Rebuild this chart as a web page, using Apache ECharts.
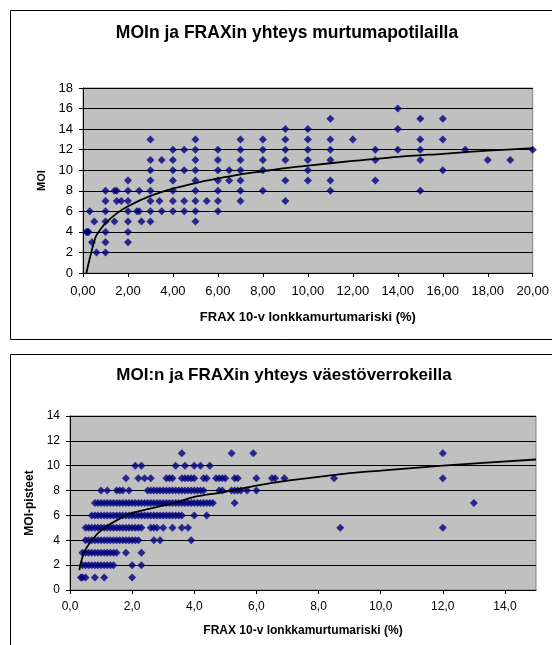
<!DOCTYPE html>
<html>
<head>
<meta charset="utf-8">
<script src="https://cdn.jsdelivr.net/npm/echarts@6/dist/echarts.min.js"></script>
<style>html,body{margin:0;padding:0;background:#fff}#c{width:552px;height:645px}</style>
</head>
<body>
<div id="c"></div>
<script>
// ---------- Chart 1: MOIn ja FRAXin yhteys murtumapotilailla ----------
const title1 = 'MOIn ja FRAXin yhteys murtumapotilailla';
const xName1 = 'FRAX 10-v lonkkamurtumariski (%)';
const yName1 = 'MOI';
// FRAX values (x) of patients, grouped by MOI score (y)
const c1_moi2  = [0.6, 1];
const c1_moi3  = [0.4, 1, 2];
const c1_moi4  = [0.15, 0.2, 0.25, 1, 2];
const c1_moi5  = [0.5, 1, 1.4, 2, 2.6, 3, 5];
const c1_moi6  = [0.3, 1, 2, 2.4, 2.5, 3, 3.5, 4, 4.5, 5, 6];
const c1_moi7  = [1, 1.5, 1.7, 2, 3, 3.4, 4, 4.5, 5, 5.5, 6, 7, 9];
const c1_moi8  = [1, 1.4, 1.5, 2, 2.5, 3, 4, 5, 6, 7, 8, 11, 15];
const c1_moi9  = [2, 3, 4, 5, 6, 6.5, 7, 9, 10, 11, 13];
const c1_moi10 = [3, 4, 4.5, 5, 6, 6.5, 7, 8, 10, 16];
const c1_moi11 = [3, 3.5, 4, 5, 6, 7, 8, 9, 10, 11, 13, 15, 18, 19];
const c1_moi12 = [4, 4.5, 5, 6, 7, 8, 9, 10, 11, 13, 14, 15, 17, 20];
const c1_moi13 = [3, 5, 7, 8, 9, 10, 11, 12, 15, 16];
const c1_moi14 = [9, 10, 14];
const c1_moi15 = [11, 15, 16];
const c1_moi16 = [14];
// logarithmic trend line
const c1_trendX = [0.15, 0.56, 0.8, 1, 1.5, 2, 3, 4, 5, 6, 7, 8, 9, 10, 12, 14, 16, 18, 20];
const c1_trendY = [0.0, 3.5, 4.3, 4.85, 5.8, 6.5, 7.5, 8.2, 8.75, 9.2, 9.6, 9.9, 10.2, 10.45, 10.9, 11.3, 11.6, 11.9, 12.15];

// ---------- Chart 2: MOI:n ja FRAXin yhteys väestöverrokeilla ----------
const title2 = 'MOI:n ja FRAXin yhteys väestöverrokeilla';
const xName2 = 'FRAX 10-v lonkkamurtumariski (%)';
const yName2 = 'MOI-pisteet';
const c2_moi1  = [0.35, 0.4, 0.5, 0.8, 1.1, 2.0];
const c2_moi2  = [0.4, 0.5, 0.6, 0.7, 0.8, 0.9, 1.0, 1.1, 1.2, 1.3, 1.4, 2.0, 2.3];
const c2_moi3  = [0.4, 0.5, 0.6, 0.7, 0.8, 0.9, 1.0, 1.1, 1.2, 1.3, 1.4, 1.5, 1.8, 2.3];
const c2_moi4  = [0.5, 0.6, 0.7, 0.8, 0.9, 1.0, 1.1, 1.2, 1.3, 1.4, 1.5, 1.6, 1.7, 1.8, 1.9, 2.0, 2.1, 2.2, 2.7, 2.9, 3.9];
const c2_moi5  = [0.5, 0.6, 0.7, 0.8, 0.9, 1.0, 1.1, 1.2, 1.3, 1.4, 1.5, 1.6, 1.7, 1.8, 1.9, 2.0, 2.1, 2.2, 2.3, 2.6, 2.7, 2.8, 3.0, 3.3, 3.6, 3.8, 8.7, 12.0];
const c2_moi6  = [0.7, 0.8, 0.9, 1.0, 1.1, 1.2, 1.3, 1.4, 1.5, 1.6, 1.7, 1.8, 1.9, 2.0, 2.1, 2.2, 2.3, 2.4, 2.5, 2.6, 2.7, 2.8, 2.9, 3.0, 3.1, 3.2, 3.3, 3.4, 3.5, 3.6, 4.0, 4.4];
const c2_moi7  = [0.8, 0.9, 1.0, 1.1, 1.2, 1.3, 1.4, 1.5, 1.6, 1.7, 1.8, 1.9, 2.0, 2.1, 2.2, 2.3, 2.4, 2.5, 2.6, 2.7, 2.8, 2.9, 3.0, 3.1, 3.2, 3.3, 3.4, 3.5, 3.6, 3.7, 3.8, 3.9, 4.0, 4.1, 4.2, 4.3, 4.4, 4.5, 4.6, 5.3, 13.0];
const c2_moi8  = [1.0, 1.2, 1.5, 1.6, 1.7, 1.9, 2.5, 2.6, 2.7, 2.8, 2.9, 3.0, 3.1, 3.2, 3.3, 3.4, 3.5, 3.6, 3.7, 3.8, 3.9, 4.0, 4.1, 4.2, 4.3, 4.8, 4.9, 5.2, 5.3, 5.4, 5.5, 5.7, 6.0];
const c2_moi9  = [1.8, 2.2, 2.4, 2.6, 3.1, 3.2, 3.3, 3.6, 3.7, 3.8, 3.9, 4.0, 4.3, 4.4, 4.7, 4.8, 4.9, 5.0, 5.3, 5.4, 6.0, 6.5, 6.6, 6.9, 8.5, 12.0];
const c2_moi10 = [2.1, 2.3, 3.4, 3.7, 4.0, 4.2, 4.5];
const c2_moi11 = [3.6, 5.2, 5.9, 12.0];
const c2_trendX = [0.3, 0.45, 0.7, 1, 1.5, 2, 2.5, 3, 3.5, 4, 5, 6, 7, 8, 9, 10, 12, 15];
const c2_trendY = [1.6, 3.0, 4.0, 4.8, 5.6, 6.2, 6.5, 6.8, 7.1, 7.5, 7.9, 8.4, 8.8, 9.1, 9.4, 9.6, 10.0, 10.5];

// ---------- build ----------
function rowsToPoints(rows) {
  const out = [];
  rows.forEach(([y, xs]) => xs.forEach(x => out.push([x, y])));
  return out;
}
const pts1 = rowsToPoints([[2, c1_moi2], [3, c1_moi3], [4, c1_moi4], [5, c1_moi5], [6, c1_moi6], [7, c1_moi7], [8, c1_moi8], [9, c1_moi9], [10, c1_moi10], [11, c1_moi11], [12, c1_moi12], [13, c1_moi13], [14, c1_moi14], [15, c1_moi15], [16, c1_moi16]]);
const pts2 = rowsToPoints([[1, c2_moi1], [2, c2_moi2], [3, c2_moi3], [4, c2_moi4], [5, c2_moi5], [6, c2_moi6], [7, c2_moi7], [8, c2_moi8], [9, c2_moi9], [10, c2_moi10], [11, c2_moi11]]);
const trend1 = c1_trendX.map((x, i) => [x, c1_trendY[i]]);
const trend2 = c2_trendX.map((x, i) => [x, c2_trendY[i]]);

const FONT = '"Liberation Sans", Arial, sans-serif';
const comma = d => v => v.toFixed(d).replace('.', ',');

function xAx(gi, max, dec, name, fs, nfs, gap, margin) {
  return {
    type: 'value', gridIndex: gi, min: 0, max: max, interval: 2,
    name: name, nameLocation: 'middle', nameGap: gap,
    nameTextStyle: {fontFamily: FONT, fontSize: nfs, fontWeight: 'bold', color: '#000'},
    axisLine: {show: true, lineStyle: {color: '#000', width: 1}},
    axisTick: {show: true, length: 4, inside: false, lineStyle: {color: '#000'}},
    axisLabel: {fontFamily: FONT, fontSize: fs, color: '#000', margin: margin, formatter: comma(dec), showMaxLabel: max % 2 === 0},
    splitLine: {show: false}
  };
}
function yAx(gi, max, name, fs, nfs, gap, margin) {
  return {
    type: 'value', gridIndex: gi, min: 0, max: max, interval: 2,
    name: name, nameLocation: 'middle', nameGap: gap, nameRotate: 90,
    nameTextStyle: {fontFamily: FONT, fontSize: nfs, fontWeight: 'bold', color: '#000'},
    axisLine: {show: true, lineStyle: {color: '#000', width: 1}},
    axisTick: {show: true, length: 4, inside: false, lineStyle: {color: '#000'}},
    axisLabel: {fontFamily: FONT, fontSize: fs, color: '#000', margin: margin},
    splitLine: {show: true, lineStyle: {color: '#000', width: 1}}
  };
}

const chart = echarts.init(document.getElementById('c'), null, {renderer: 'canvas'});
chart.setOption({
  animation: false,
  backgroundColor: '#fff',
  title: [
    {text: title1, left: 282, top: 19, textAlign: 'center',
     textStyle: {fontFamily: FONT, fontSize: 17.5, fontWeight: 'bold', color: '#000'}},
    {text: title2, left: 279, top: 362, textAlign: 'center',
     textStyle: {fontFamily: FONT, fontSize: 17, fontWeight: 'bold', color: '#000'}}
  ],
  graphic: [
    {type: 'rect', shape: {x: 10.5, y: 10.5, width: 600, height: 329}, style: {fill: 'none', stroke: '#000', lineWidth: 1}, z: 100},
    {type: 'rect', shape: {x: 10.5, y: 354.5, width: 600, height: 400}, style: {fill: 'none', stroke: '#000', lineWidth: 1}, z: 100}
  ],
  grid: [
    {left: 83, top: 88, width: 456, height: 185, show: true, backgroundColor: '#C0C0C0', borderColor: '#808080', borderWidth: 1},
    {left: 70, top: 416, width: 466, height: 174, show: true, backgroundColor: '#C0C0C0', borderColor: '#808080', borderWidth: 1}
  ],
  xAxis: [
    xAx(0, 20, 2, xName1, 13, 13, 38, 12),
    xAx(1, 15, 1, xName2, 12, 12, 35, 11)
  ],
  yAxis: [
    yAx(0, 18, yName1, 13, 11, 36, 10),
    yAx(1, 14, yName2, 12, 12, 34, 10)
  ],
  series: [
    {type: 'scatter', xAxisIndex: 0, yAxisIndex: 0, data: pts1, symbol: 'diamond', symbolSize: 8,
     itemStyle: {color: '#000080'}, silent: true, z: 3},
    {type: 'line', xAxisIndex: 0, yAxisIndex: 0, data: trend1, smooth: 0.3, showSymbol: false, symbol: 'none',
     lineStyle: {color: '#000', width: 1.8}, silent: true, z: 4},
    {type: 'scatter', xAxisIndex: 1, yAxisIndex: 1, data: pts2, symbol: 'diamond', symbolSize: 8,
     itemStyle: {color: '#000080'}, silent: true, z: 3},
    {type: 'line', xAxisIndex: 1, yAxisIndex: 1, data: trend2, smooth: 0.3, showSymbol: false, symbol: 'none',
     lineStyle: {color: '#000', width: 1.8}, silent: true, z: 4}
  ]
});
</script>
</body>
</html>
